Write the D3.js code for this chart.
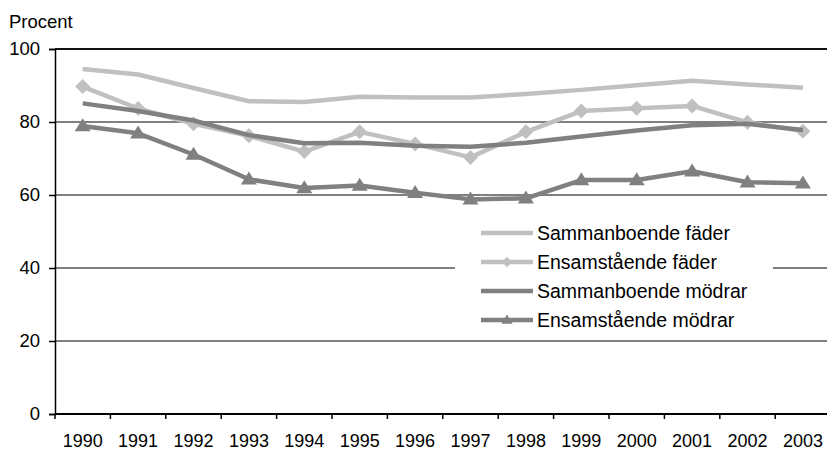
<!DOCTYPE html>
<html>
<head>
<meta charset="utf-8">
<script src="https://cdn.jsdelivr.net/npm/d3@7"></script>
<style>
  html, body { margin: 0; padding: 0; background: #fff; overflow: hidden; }
  svg text { font-family: "Liberation Sans", Arial, sans-serif; fill: #000; }
</style>
</head>
<body>
<svg id="chart" width="827" height="451"></svg>
<script>
// Years on the x axis
const years = ['1990', '1991', '1992', '1993', '1994', '1995', '1996',
  '1997', '1998', '1999', '2000', '2001', '2002', '2003'];

// Percent values per series
const sammanFader = [94.5, 93.0, 89.3, 85.7, 85.5, 86.9, 86.7, 86.7, 87.7, 88.8, 90.1, 91.3, 90.3, 89.4];
const ensamFader = [89.7, 83.7, 79.5, 76.2, 71.9, 77.3, 74.0, 70.3, 77.3, 83.0, 83.8, 84.4, 79.9, 77.5];
const sammanModrar = [85.1, 83.0, 80.4, 76.4, 74.2, 74.3, 73.5, 73.2, 74.3, 76.0, 77.7, 79.1, 79.5, 77.8];
const ensamModrar = [78.9, 76.9, 71.1, 64.3, 61.9, 62.6, 60.6, 58.8, 59.1, 64.1, 64.1, 66.5, 63.5, 63.2];

const yTicks = [0, 20, 40, 60, 80, 100];

const series = [
  { name: 'Sammanboende fäder', values: sammanFader, color: '#c0c0c0', marker: null },
  { name: 'Ensamstående fäder', values: ensamFader, color: '#c0c0c0', marker: 'diamond' },
  { name: 'Sammanboende mödrar', values: sammanModrar, color: '#808080', marker: null },
  { name: 'Ensamstående mödrar', values: ensamModrar, color: '#808080', marker: 'triangle' },
];

const svg = d3.select('#chart');

// Plot area (runs a little past the right edge like the original)
const plotLeft = 55;
const plotTop = 49;
const plotBottom = 414;
const step = 55.4;

const x = d3.scaleBand().domain(years).range([plotLeft, plotLeft + step * years.length]);
const y = d3.scaleLinear().domain([0, 100]).range([plotBottom, plotTop]);
const cx = d => x(d) + x.bandwidth() / 2;

// Gridlines
svg.append('g')
  .selectAll('line')
  .data(yTicks.filter(t => t > 0))
  .join('line')
  .attr('x1', plotLeft)
  .attr('x2', 827)
  .attr('y1', d => y(d))
  .attr('y2', d => y(d))
  .attr('stroke', d => (d === 100 ? '#111' : '#808080'))
  .attr('stroke-width', 2);

// Y axis
const yAxis = svg.append('g')
  .attr('transform', `translate(${plotLeft},0)`)
  .call(d3.axisLeft(y).tickValues(yTicks).tickSize(6).tickPadding(9));
yAxis.select('.domain').attr('stroke', '#000').attr('stroke-width', 1.5);
yAxis.selectAll('.tick line').attr('stroke', '#000').attr('stroke-width', 1.5);
yAxis.selectAll('.tick text')
  .attr('font-size', 18.5)
  .style('font-family', '"Liberation Sans", Arial, sans-serif');

// X axis: ticks sit between categories
svg.append('line')
  .attr('x1', plotLeft).attr('x2', 827)
  .attr('y1', y(0)).attr('y2', y(0))
  .attr('stroke', '#000').attr('stroke-width', 2);
svg.append('g')
  .selectAll('line')
  .data(years)
  .join('line')
  .attr('x1', d => x(d))
  .attr('x2', d => x(d))
  .attr('y1', y(0))
  .attr('y2', y(0) + 5)
  .attr('stroke', '#000')
  .attr('stroke-width', 1.5);
svg.append('g')
  .selectAll('text')
  .data(years)
  .join('text')
  .attr('x', cx)
  .attr('y', 447)
  .attr('text-anchor', 'middle')
  .attr('font-size', 18)
  .text(d => d);

// Axis title
svg.append('text')
  .attr('x', 9)
  .attr('y', 28)
  .attr('font-size', 18.5)
  .text('Procent');

const line = d3.line().x((d, i) => cx(years[i])).y(d => y(d));

// Marker shapes, k scales them down for the legend
const drawMarker = (sel, type, k) => {
  if (type === 'diamond') {
    const r = 7.5 * k;
    sel.append('path').attr('d', `M0,${-r}L${r},0L0,${r}L${-r},0Z`);
  } else if (type === 'triangle') {
    const w = 8 * k;
    const h = 13 * k;
    sel.append('path').attr('d', `M0,${-h * 0.6}L${w},${h * 0.4}L${-w},${h * 0.4}Z`);
  }
};

// Series lines and markers
series.forEach((s) => {
  const g = svg.append('g');
  g.append('path')
    .datum(s.values)
    .attr('d', line)
    .attr('fill', 'none')
    .attr('stroke', s.color)
    .attr('stroke-width', 4.5)
    .attr('stroke-linejoin', 'round');
  if (s.marker) {
    g.selectAll('g.m')
      .data(s.values)
      .join('g')
      .attr('class', 'm')
      .attr('fill', s.color)
      .attr('transform', (d, i) => `translate(${cx(years[i])},${y(d)})`)
      .each(function () { drawMarker(d3.select(this), s.marker, 1); });
  }
});

// Legend
const legend = svg.append('g');
legend.append('rect')
  .attr('x', 455).attr('y', 218)
  .attr('width', 318).attr('height', 116)
  .attr('fill', '#fff');
const rowY = [233, 262, 291, 320];
series.forEach((s, i) => {
  const row = legend.append('g').attr('transform', `translate(0,${rowY[i]})`);
  row.append('line')
    .attr('x1', 481).attr('x2', 533)
    .attr('y1', 0).attr('y2', 0)
    .attr('stroke', s.color)
    .attr('stroke-width', 4.5);
  if (s.marker) {
    const m = row.append('g').attr('fill', s.color).attr('transform', 'translate(507,0)');
    drawMarker(m, s.marker, 0.7);
  }
  row.append('text')
    .attr('x', 537)
    .attr('y', 7)
    .attr('font-size', 19.5)
    .text(s.name);
});
</script>
</body>
</html>
